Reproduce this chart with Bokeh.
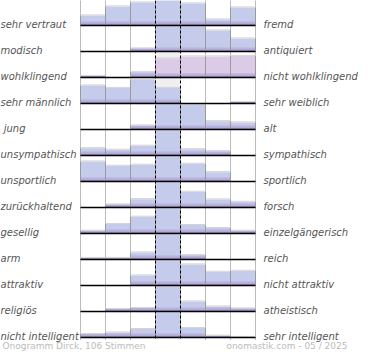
from bokeh.plotting import figure
from bokeh.models import Range1d
from bokeh.core.properties import value
from bokeh.embed import file_html
from bokeh.resources import INLINE

left_labels = ["sehr vertraut", "modisch", "wohlklingend", "sehr männlich", "\u00a0jung",
               "unsympathisch", "unsportlich", "zurückhaltend", "gesellig", "arm",
               "attraktiv", "religiös", "nicht intelligent"]
right_labels = ["fremd", "antiquiert", "nicht wohlklingend", "sehr weiblich", "alt",
                "sympathisch", "sportlich", "forsch", "einzelgängerisch", "reich",
                "nicht attraktiv", "atheistisch", "sehr intelligent"]

# relative bar heights per scale (7 steps, left pole -> right pole), max = 25
r_vertraut = [10, 19, 23, 25, 22, 6, 18]
r_modisch = [0, 0, 3, 25, 25, 21, 13]
r_wohlklingend = [1.5, 0, 5.5, 19, 21, 21, 21.5]
r_maennlich = [18, 15.5, 23.5, 15.5, 0, 0, 1.5]
r_jung = [0, 0, 4, 25, 25, 8.3, 7]
r_sympathisch = [7.3, 5.7, 9.7, 25, 6.3, 4.3, 0]
r_sportlich = [20, 15.7, 16.7, 25, 17.7, 9.3, 0]
r_forsch = [0, 3, 8.3, 25, 15.6, 8, 5.6]
r_gesellig = [2.7, 9.4, 16.7, 25, 8.4, 5.4, 2.7]
r_arm = [1.5, 1.5, 7, 25, 4.3, 0, 0]
r_attraktiv = [0, 0, 10, 25, 21, 13.6, 14.6]
r_religioes = [0, 2.4, 3.4, 25, 10, 5, 3]
r_intelligent = [3.4, 5, 8.4, 25, 9.4, 1.7, 0.5]

rows = [r_vertraut, r_modisch, r_wohlklingend, r_maennlich, r_jung, r_sympathisch,
        r_sportlich, r_forsch, r_gesellig, r_arm, r_attraktiv, r_religioes, r_intelligent]

footer_left = "Onogramm Dirck, 106 Stimmen"
footer_right = "onomastik.com - 05 / 2025"

p = figure(width=362, height=352, output_backend="svg", toolbar_location=None,
           x_range=Range1d(0, 362), y_range=Range1d(352, 0), min_border=0)
p.axis.visible = False
p.grid.visible = False
p.outline_line_color = None
p.background_fill_color = "white"

X0, CW, Y0, RH = 80, 25, 25, 26
ncol = 7
nrow = len(rows)
top_y, bot_y = 0, 340

# dotted grid lines
dx = [X0 + CW * j for j in (0, 1, 2, 5, 6, 7)]
p.segment(x0=dx, y0=[top_y] * len(dx), x1=dx, y1=[bot_y] * len(dx),
          line_color="#777777", line_width=1, line_dash="1 1")

# light grey centre background
cb = [Y0 + RH * i for i in range(nrow)]
p.quad(left=[X0 + 3 * CW] * nrow, right=[X0 + 4 * CW] * nrow,
       top=[b - 25 for b in cb], bottom=cb, fill_color="#efefef", line_color=None)

L, R, T, B, C = [], [], [], [], []
for i, vals in enumerate(rows):
    base = Y0 + RH * i
    for j, h in enumerate(vals):
        if h <= 0:
            continue
        L.append(X0 + CW * j)
        R.append(X0 + CW * (j + 1))
        T.append(base - h)
        B.append(base)
        C.append("#dccbe7" if (i == 2 and j >= 3) else "#c5cbea")

p.quad(left=L, right=R, top=T, bottom=B, fill_color=C, line_color=None)
# darker band at bottom of bars (gradient imitation)
for hh, col, a in ((4.5, "#b8b0dc", 0.5), (3, "#aa9ed0", 0.6), (1.5, "#9886c2", 0.7)):
    p.quad(left=L, right=R, top=[max(t, b - hh) for t, b in zip(T, B)], bottom=B,
           fill_color=col, fill_alpha=a, line_color=None)
# top shadow and side edges
p.segment(x0=L, y0=[t - 0.6 for t in T], x1=R, y1=[t - 0.6 for t in T],
          line_color="#d4d4d4", line_width=1)
p.segment(x0=R, y0=T, x1=R, y1=B, line_color="#9a9a9a", line_width=1)
p.segment(x0=L, y0=T, x1=L, y1=B, line_color="#9a9a9a", line_width=1)

# dashed centre lines
cx = [X0 + 3 * CW, X0 + 4 * CW]
p.segment(x0=cx, y0=[top_y] * 2, x1=cx, y1=[bot_y] * 2,
          line_color="black", line_width=1, line_dash="3 2")

# baselines
p.segment(x0=[X0] * nrow, y0=cb, x1=[X0 + ncol * CW] * nrow, y1=cb,
          line_color="black", line_width=1.6)

# labels
p.text(x=[0] * nrow, y=[b - 1 for b in cb], text=left_labels,
       text_font=value("DejaVu Sans"), text_font_style="italic",
       text_font_size="10px", text_color="#555555",
       text_baseline="alphabetic", text_align="left")
p.text(x=[263] * nrow, y=[b - 1 for b in cb], text=right_labels,
       text_font=value("DejaVu Sans"), text_font_style="italic",
       text_font_size="10px", text_color="#555555",
       text_baseline="alphabetic", text_align="left")

p.text(x=[2], y=[345], text=[footer_left], text_font=value("DejaVu Sans"),
       text_font_size="9px", text_color="#bbbbbb", text_baseline="middle",
       text_align="left")
p.text(x=[347], y=[345], text=[footer_right], text_font=value("DejaVu Sans"),
       text_font_size="9px", text_color="#bbbbbb", text_baseline="middle",
       text_align="right")

open("out.html", "w").write(file_html(p, INLINE))
